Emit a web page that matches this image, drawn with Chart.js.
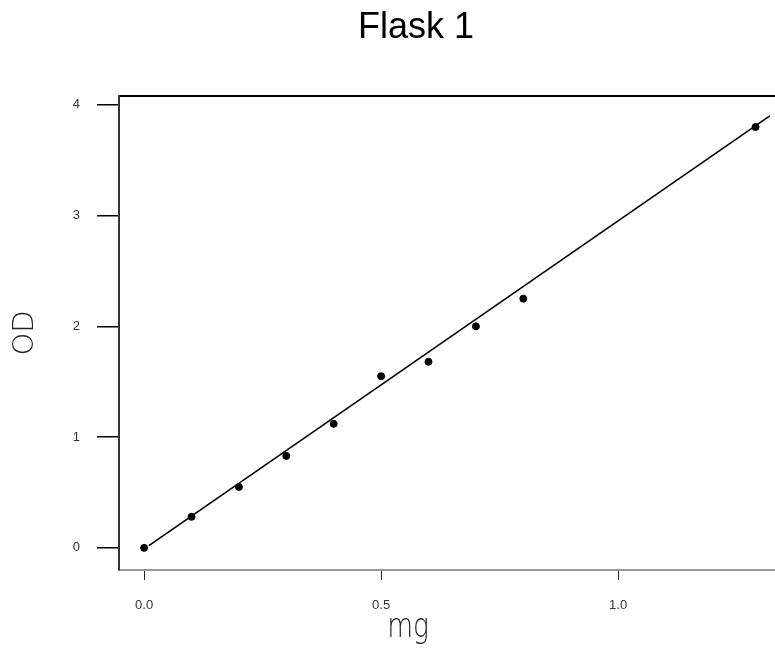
<!DOCTYPE html>
<html>
<head>
<meta charset="utf-8">
<script src="https://cdn.jsdelivr.net/npm/chart.js@4"></script>
<style>
  html, body { margin: 0; padding: 0; background: #fff; }
  #wrap { width: 775px; height: 648px; }
</style>
</head>
<body>
<div id="wrap"><canvas id="flaskChart"></canvas></div>
<script>
// Données mesurées
const mgValues = [0, 0.1, 0.2, 0.3, 0.4, 0.5, 0.6, 0.7, 0.8, 1.29];
const odValues = [0, 0.28, 0.55, 0.83, 1.12, 1.55, 1.68, 2.0, 2.25, 3.8];

// Droite d'ajustement
const fitX = [0.01, 1.32];
const fitY = [0.02, 3.9];

const xTicks = [0, 0.5, 1.0];
const yTicks = [0, 1, 2, 3, 4];

const points = mgValues.map((x, i) => ({ x: x, y: odValues[i] }));
const fitLine = fitX.map((x, i) => ({ x: x, y: fitY[i] }));

// Titre et étiquette de l'axe x dessinés à la main (décalés comme l'original)
const labels = {
  id: "labels",
  afterDraw(chart) {
    const ctx = chart.ctx;
    ctx.save();
    ctx.fillStyle = "#000";
    ctx.textAlign = "center";
    ctx.textBaseline = "middle";
    ctx.font = "36px Arial, 'Liberation Sans', sans-serif";
    ctx.fillText("Flask 1", 416, 28);

    ctx.fillStyle = "#222";
    ctx.translate(408, 628);
    ctx.scale(0.78, 1);
    ctx.font = "200 34px 'DejaVu Sans', sans-serif";
    ctx.fillText("mg", 0, 0);
    ctx.restore();
  },
};

const tickFont = { family: "Arial, 'Liberation Sans', sans-serif", size: 13 };

new Chart(document.getElementById("flaskChart"), {
  type: "scatter",
  data: {
    datasets: [
      {
        data: points,
        backgroundColor: "#000",
        borderColor: "#000",
        pointRadius: 3.5,
      },
      {
        type: "line",
        data: fitLine,
        borderColor: "#000",
        borderWidth: 1.6,
        pointRadius: 0,
        fill: false,
      },
    ],
  },
  options: {
    responsive: true,
    maintainAspectRatio: false,
    animation: false,
    layout: { autoPadding: false, padding: 0 },
    plugins: {
      legend: { display: false },
      tooltip: { enabled: false },
      title: { display: false },
    },
    scales: {
      x: {
        type: "linear",
        min: -0.053,
        max: 1.331,
        afterFit: (s) => { s.height = 78; },
        afterBuildTicks: (s) => { s.ticks = xTicks.map((v) => ({ value: v })); },
        grid: { drawOnChartArea: false, drawTicks: true, tickLength: 10, color: "#222" },
        border: { display: true, color: "#999", width: 2 },
        ticks: {
          padding: 18,
          color: "#333",
          font: tickFont,
          callback: (v) => v.toFixed(1),
          maxRotation: 0,
        },
      },
      x2: {
        type: "linear",
        position: "top",
        min: -0.053,
        max: 1.331,
        afterFit: (s) => { s.height = 96; },
        grid: { display: false },
        ticks: { display: false },
        border: { display: true, color: "#000", width: 2 },
      },
      y: {
        min: -0.2,
        max: 4.08,
        afterFit: (s) => { s.width = 119; },
        afterBuildTicks: (s) => { s.ticks = yTicks.map((v) => ({ value: v })); },
        grid: { drawOnChartArea: false, drawTicks: true, tickLength: 22, color: "#000", lineWidth: 1.5 },
        border: { display: true, color: "#333", width: 2 },
        ticks: {
          padding: 17,
          color: "#333",
          font: tickFont,
        },
        title: {
          display: true,
          text: "OD",
          color: "#222",
          font: { family: "'DejaVu Sans', sans-serif", size: 29, weight: "200" },
          padding: { top: 8, bottom: 0 },
        },
      },
    },
  },
  plugins: [labels],
});
</script>
</body>
</html>
